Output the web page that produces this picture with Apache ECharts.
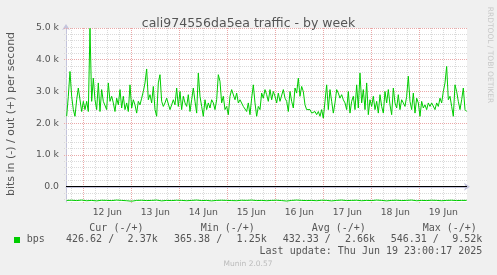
<!DOCTYPE html>
<html><head><meta charset="utf-8">
<script src="https://cdn.jsdelivr.net/npm/echarts@6/dist/echarts.min.js"></script>
<style>html,body{margin:0;padding:0;background:#f0f0f0;}#c{width:497px;height:275px;}</style>
</head><body><div id="c"></div>
<script>
// out (+) traffic, bits per second, one sample every 50 minutes
const outValues = [
2220,2850,3630,2850,2430,2220,2740,3110,3060,2370,
2690,2430,2690,2370,4990,2690,3420,2740,2430,3270,
2370,3060,2690,2640,2430,3270,2690,2850,2640,2370,
2790,2580,3060,2480,2850,2430,2640,2370,3210,2480,
2740,2580,2320,2690,2580,2790,3000,3270,3710,2740,
2900,2640,3160,2430,2220,3270,3530,2690,2530,2640,
2790,2790,2430,2580,2740,2580,3110,2530,3000,2430,
2850,2640,2530,2900,2370,2740,3110,2690,2320,3580,
2850,2530,2220,2740,2430,2640,2480,2740,2640,2430,
2740,3530,3320,2640,2850,2430,2530,2270,2850,3060,
3110,2740,2950,2640,2740,2690,2530,2580,2370,2640,
2270,2790,3210,2640,2220,2530,2430,2950,2790,3060,
2900,2690,3060,2740,3000,2850,2640,2950,2690,
2640,3060,2790,2690,2370,3000,2690,2480,3110,2950,
3420,2850,3160,3000,2580,2430,2370,2430,2320,2270,
2370,2270,2370,2220,2430,2160,2690,3210,2430,3060,
2690,2320,2640,3060,2950,2790,2900,2740,2640,2430,
3000,2320,2690,2850,2430,3210,2480,3580,2640,3060,
2430,3270,2270,2740,2530,2850,2430,2690,2320,2900,
2530,2320,3000,2640,3060,2580,2270,3110,2640,2480,
2900,2430,2740,2640,2530,2850,3480,2690,2430,2950,
2320,2790,2640,2220,2690,2480,2580,2430,2640,2530,
2640,2690,2430,2640,2530,2790,2640,3000,3270,3790,
2740,2850,2530,2220,3210,3000,2690,2430,2740,3110,
2430,2370
];
// in (-) traffic, drawn below zero, one sample every 2.5 hours
const inValues = [
-430,-425,-435,-420,-440,-430,-445,-425,-430,-435,
-420,-430,-440,-455,-430,-425,-435,-430,-420,-445,
-430,-435,-425,-430,-440,-430,-420,-435,-430,-445,
-430,-425,-430,-435,-440,-425,-430,-420,-435,-430,
-440,-430,-425,-435,-450,-430,-420,-430,-435,-430,
-440,-425,-430,-445,-430,-420,-435,-430,-425,-440,
-430,-435,-420,-430,-445,-430,-425,-435,-430,-420,
-440,-430,-435,-425,-430,-440,-430,-425,-435,-430,
-430
];
// hours after 11 Jun 00:00
const outStartHour = 15.68;
const outStepHours = 50 / 60;
const inStartHour = 15.68;
const inStepHours = 2.5;
const xMinHour = 15.35;
const xMaxHour = 215.85;
const dayMidnights = [24, 48, 72, 96, 120, 144, 168, 192];
const dayLabels = ['12 Jun', '13 Jun', '14 Jun', '15 Jun', '16 Jun', '17 Jun', '18 Jun', '19 Jun'];
const yTicks = [0, 1000, 2000, 3000, 4000, 5000];
const yTickLabels = ['0.0', '1.0 k', '2.0 k', '3.0 k', '4.0 k', '5.0 k'];
const yMin = -480, yMax = 5000;

const outData = outValues.map((v, i) => [outStartHour + i * outStepHours, v]);
const inData = inValues.map((v, i) => [inStartHour + i * inStepHours, v]);
const labelHours = dayMidnights.map(h => h + 12);

const mono = 'DejaVu Sans Mono';
const txt = '#555';
function t(x, y, s, align) {
  return { type: 'text', x: x, y: y, z: 10, style: { text: s, fill: txt, font: '10px "' + mono + '"', align: align || 'left', verticalAlign: 'middle' } };
}
const textGraphics = [
  { type: 'text', x: 11, y: 114, rotation: Math.PI / 2, z: 10,
    style: { text: 'bits in (-) / out (+) per second', fill: txt, font: '11px "DejaVu Sans"', align: 'center', verticalAlign: 'middle' } },
  { type: 'text', x: 490, y: 55, rotation: -Math.PI / 2, z: 10,
    style: { text: 'RRDTOOL / TOBI OETIKER', fill: '#c8c8c8', font: '7.5px "DejaVu Sans"', align: 'center', verticalAlign: 'middle' } },
  t(89.3, 228.3, 'Cur (-/+)'),
  t(200.7, 228.3, 'Min (-/+)'),
  t(311.7, 228.3, 'Avg (-/+)'),
  t(422.7, 228.3, 'Max (-/+)'),
  { type: 'rect', z: 10, shape: { x: 14, y: 237, width: 6, height: 6 }, style: { fill: '#00cc00' } },
  t(26.7, 239.7, 'bps'),
  t(66, 239.7, '426.62 /'), t(157.7, 239.7, '2.37k', 'right'),
  t(174, 239.7, '365.38 /'), t(266.7, 239.7, '1.25k', 'right'),
  t(282.7, 239.7, '432.33 /'), t(375, 239.7, '2.66k', 'right'),
  t(390.7, 239.7, '546.31 /'), t(482.3, 239.7, '9.52k', 'right'),
  t(482.3, 251, 'Last update: Thu Jun 19 23:00:17 2025', 'right'),
  { type: 'text', x: 248, y: 264.3, z: 10,
    style: { text: 'Munin 2.0.57', fill: '#bbbbbb', font: '7.5px "DejaVu Sans"', align: 'center', verticalAlign: 'middle' } }
];

const chart = echarts.init(document.getElementById('c'), null, { renderer: 'canvas' });
chart.setOption({
  animation: false,
  backgroundColor: '#f0f0f0',
  title: {
    text: 'cali974556da5ea traffic - by week',
    left: 'center', top: 12,
    textStyle: { fontFamily: 'DejaVu Sans', fontSize: 12.5, fontWeight: 'normal', color: '#555' }
  },
  grid: { left: 66, top: 28, width: 401, height: 174, backgroundColor: '#ffffff', show: true, borderWidth: 0 },
  xAxis: {
    type: 'value', min: xMinHour, max: xMaxHour,
    splitLine: { show: false },
    axisLine: { show: true, lineStyle: { color: '#c4c4dc', width: 1 }, symbol: ['none', 'arrow'], symbolSize: [6, 6], symbolOffset: [0, 3] },
    axisTick: { show: false },
    axisLabel: {
      customValues: labelHours,
      formatter: v => dayLabels[labelHours.indexOf(v)] || '',
      color: txt, fontFamily: 'DejaVu Sans', fontSize: 9.3, margin: 6
    }
  },
  yAxis: {
    type: 'value', min: yMin, max: yMax,
    splitLine: { show: false },
    axisLine: { show: true, lineStyle: { color: '#c4c4dc', width: 1 }, symbol: ['none', 'arrow'], symbolSize: [6, 6], symbolOffset: [0, 4] },
    axisTick: { show: false },
    axisLabel: {
      customValues: yTicks,
      formatter: v => yTickLabels[yTicks.indexOf(v)] || '',
      color: txt, fontFamily: 'DejaVu Sans', fontSize: 9.3, margin: 7
    }
  },
  series: [
    { name: 'out', type: 'line', data: outData, showSymbol: false, z: 5,
      lineStyle: { color: '#00cc00', width: 1 }, itemStyle: { color: '#00cc00' } },
    { name: 'in', type: 'line', data: inData, showSymbol: false, z: 5,
      lineStyle: { color: '#00cc00', width: 1 }, itemStyle: { color: '#00cc00' } }
  ],
  graphic: textGraphics
});

// crisp dotted grid, positioned through the chart's own scales
const minorColor = '#dadada';
const majorColor = '#eaa8a8';
const px = v => chart.convertToPixel({ xAxisIndex: 0 }, v);
const py = v => chart.convertToPixel({ yAxisIndex: 0 }, v);
const gLeft = px(xMinHour), gRight = px(xMaxHour), gTop = py(yMax), gBottom = py(yMin);
const snap = p => Math.round(p - 0.5) + 0.5;
const gridGraphics = [];
function hLine(v, color) {
  const y = snap(py(v));
  gridGraphics.push({ type: 'line', z: 1, silent: true, shape: { x1: gLeft - 2, y1: y, x2: gRight, y2: y },
    style: { stroke: color, lineWidth: 1, lineDash: [1, 1] } });
}
function vLine(h, color) {
  const x = snap(px(h));
  gridGraphics.push({ type: 'line', z: 1, silent: true, shape: { x1: x, y1: gTop, x2: x, y2: gBottom + 2 },
    style: { stroke: color, lineWidth: 1, lineDash: [1, 1] } });
}
for (let v = -400; v <= 4800; v += 200) if (v % 1000 !== 0) hLine(v, minorColor);
for (let h = 18; h < xMaxHour; h += 6) if (h % 24 !== 0) vLine(h, minorColor);
yTicks.forEach(v => { if (v !== 0) hLine(v, majorColor); });
dayMidnights.forEach(h => vLine(h, majorColor));
const zy = snap(py(0));
gridGraphics.push({ type: 'line', z: 2, silent: true, shape: { x1: gLeft, y1: zy, x2: gRight, y2: zy },
  style: { stroke: '#000000', lineWidth: 1 } });
chart.setOption({ graphic: textGraphics.concat(gridGraphics) });
</script></body></html>
